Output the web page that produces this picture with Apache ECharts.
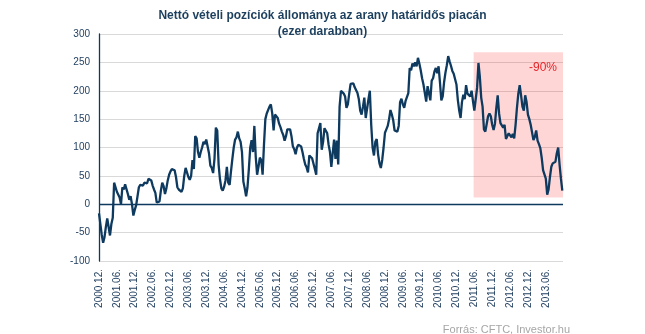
<!DOCTYPE html>
<html>
<head>
<meta charset="utf-8">
<script src="https://cdn.jsdelivr.net/npm/echarts@6/dist/echarts.min.js"></script>
<style>
  html, body { margin: 0; padding: 0; background: #ffffff; }
  #chart { width: 645px; height: 334px; }
</style>
</head>
<body>
<div id="chart"></div>
<script>
// Net long positions in gold futures (thousand contracts), one reading every two weeks,
// starting December 2000.
const WEEKS_PER_POINT = 2;
const netLong = [
  -16, -35, -54, -68, -58, -40, -25, -40, -55, -35,
  -24, 38, 40, 22, 24, 12, 0, 30, 26, 35,
  32, 18, 8, 14, 0, -20, -10, -2, 14, 30,
  34, 31, 33, 38, 40, 37, 45, 44, 42, 33,
  26, 20, 3, 0, 5, 24, 38, 32, 18, 28,
  42, 52, 58, 62, 65, 60, 48, 30, 26, 24,
  22, 28, 50, 64, 66, 48, 43, 50, 78, 62,
  120, 116, 92, 82, 92, 100, 110, 106, 114, 115,
  90, 68, 64, 55, 80, 135, 130, 70, 44, 28,
  24, 31, 42, 66, 38, 34, 58, 80, 100, 114,
  118, 128, 116, 110, 92, 40, 28, 14, 30, 62,
  100, 113, 92, 138, 84, 52, 66, 82, 78, 52,
  105, 150, 160, 160, 172, 176, 160, 130, 158, 158,
  152, 142, 136, 128, 122, 112, 120, 132, 130, 132,
  120, 102, 97, 88, 100, 105, 104, 102, 92, 80,
  70, 65, 56, 86, 84, 81, 78, 62, 52, 125,
  134, 143, 96, 110, 134, 137, 125, 105, 92, 66,
  90, 114, 80, 112, 70, 172, 200, 202, 195, 190,
  170, 176, 195, 212, 211, 213, 206, 207, 196, 185,
  165, 158, 172, 188, 152, 150, 185, 200, 140, 100,
  86, 110, 115, 88, 72, 64, 78, 100, 126, 132,
  138, 150, 166, 158, 148, 130, 128, 128, 138, 180,
  186, 176, 170, 182, 185, 196, 240, 236, 248, 243,
  250, 243, 258, 248, 236, 222, 211, 214, 181, 208,
  206, 183, 218, 222, 234, 240, 231, 243, 215, 183,
  190, 215, 232, 245, 261, 252, 244, 235, 230, 228,
  211, 184, 165, 152, 180, 193, 185, 210, 195, 193,
  190, 200, 182, 165, 185, 205, 249, 225, 188, 172,
  132, 128, 131, 155, 160, 155, 140, 131, 142, 170,
  192, 160, 143, 146, 135, 140, 115, 113, 125, 126,
  118, 124, 116, 140, 170, 195, 210, 192, 172, 165,
  192, 180, 158, 150, 140, 138, 113, 119, 130, 112,
  106, 99, 82, 60, 60, 45, 17, 26, 48, 66,
  72, 70, 75, 90, 100, 70, 45, 24
];

// Half-yearly tick labels on the time axis
const tickLabels = [
  '2000.12.', '2001.06.', '2001.12.', '2002.06.', '2002.12.', '2003.06.',
  '2003.12.', '2004.06.', '2004.12.', '2005.06.', '2005.12.', '2006.06.',
  '2006.12.', '2007.06.', '2007.12.', '2008.06.', '2008.12.', '2009.06.',
  '2009.12.', '2010.06.', '2010.12.', '2011.06.', '2011.12.', '2012.06.',
  '2012.12.', '2013.06.'
];
const WEEKS_PER_TICK = 26;
const LAST_WEEK = 675;

// Highlighted decline since the 2011 peak
const declineRange = { fromWeek: 545, toWeek: LAST_WEEK, low: 12, high: 268 };
const declineLabel = '-90%';

const seriesData = netLong.map((v, i) => [i * WEEKS_PER_POINT, v]);

const navy = '#0e3a5f';
const textNavy = '#1d3b5c';

const chart = echarts.init(document.getElementById('chart'), null, { renderer: 'canvas' });
chart.setOption({
  animation: false,
  backgroundColor: '#ffffff',
  title: [
    {
      text: 'Nettó vételi pozíciók állománya az arany határidős piacán\n(ezer darabban)',
      left: 'center',
      top: 3,
      textStyle: {
        fontFamily: 'Liberation Sans',
        fontSize: 12,
        fontWeight: 'bold',
        color: '#1c3f5e',
        lineHeight: 16
      }
    },
    {
      text: 'Forrás: CFTC, Investor.hu',
      right: 70,
      top: 319,
      textStyle: {
        fontFamily: 'Liberation Sans',
        fontSize: 11,
        fontWeight: 'normal',
        color: '#a6a6a6'
      }
    }
  ],
  grid: { left: 99, right: 82, top: 34, bottom: 73, containLabel: false },
  xAxis: {
    type: 'value',
    min: 0,
    max: LAST_WEEK,
    interval: WEEKS_PER_TICK,
    axisLine: { show: false },
    axisTick: { show: false },
    splitLine: { show: false },
    axisLabel: {
      rotate: 90,
      margin: 8,
      color: textNavy,
      fontFamily: 'Liberation Sans',
      fontSize: 10,
      showMaxLabel: false,
      formatter: (v) => {
        const k = Math.round(v / WEEKS_PER_TICK);
        return (k * WEEKS_PER_TICK === v && tickLabels[k]) ? tickLabels[k] : '';
      }
    }
  },
  yAxis: {
    type: 'value',
    min: -100,
    max: 300,
    interval: 50,
    axisLine: { show: true, lineStyle: { color: navy, width: 1.3 } },
    axisTick: { show: false },
    splitLine: { show: true, lineStyle: { color: '#d9d9d9', width: 1 } },
    axisLabel: {
      margin: 9,
      color: textNavy,
      fontFamily: 'Liberation Sans',
      fontSize: 10
    }
  },
  series: [
    {
      type: 'line',
      data: seriesData,
      showSymbol: false,
      symbol: 'none',
      lineStyle: { color: navy, width: 2.3 },
      markLine: {
        silent: true,
        symbol: 'none',
        label: { show: false },
        lineStyle: { color: navy, type: 'solid', width: 1.3 },
        data: [{ yAxis: 0 }]
      },
      markArea: {
        silent: true,
        z: 3,
        itemStyle: { color: 'rgba(255,0,0,0.16)' },
        label: {
          show: true,
          position: 'insideTopRight',
          distance: 6,
          padding: [4, 0, 0, 0],
          color: '#e5252a',
          fontFamily: 'Liberation Sans',
          fontSize: 12
        },
        data: [[
          { name: declineLabel, xAxis: declineRange.fromWeek, yAxis: declineRange.high },
          { xAxis: declineRange.toWeek, yAxis: declineRange.low }
        ]]
      }
    }
  ]
});
</script>
</body>
</html>
